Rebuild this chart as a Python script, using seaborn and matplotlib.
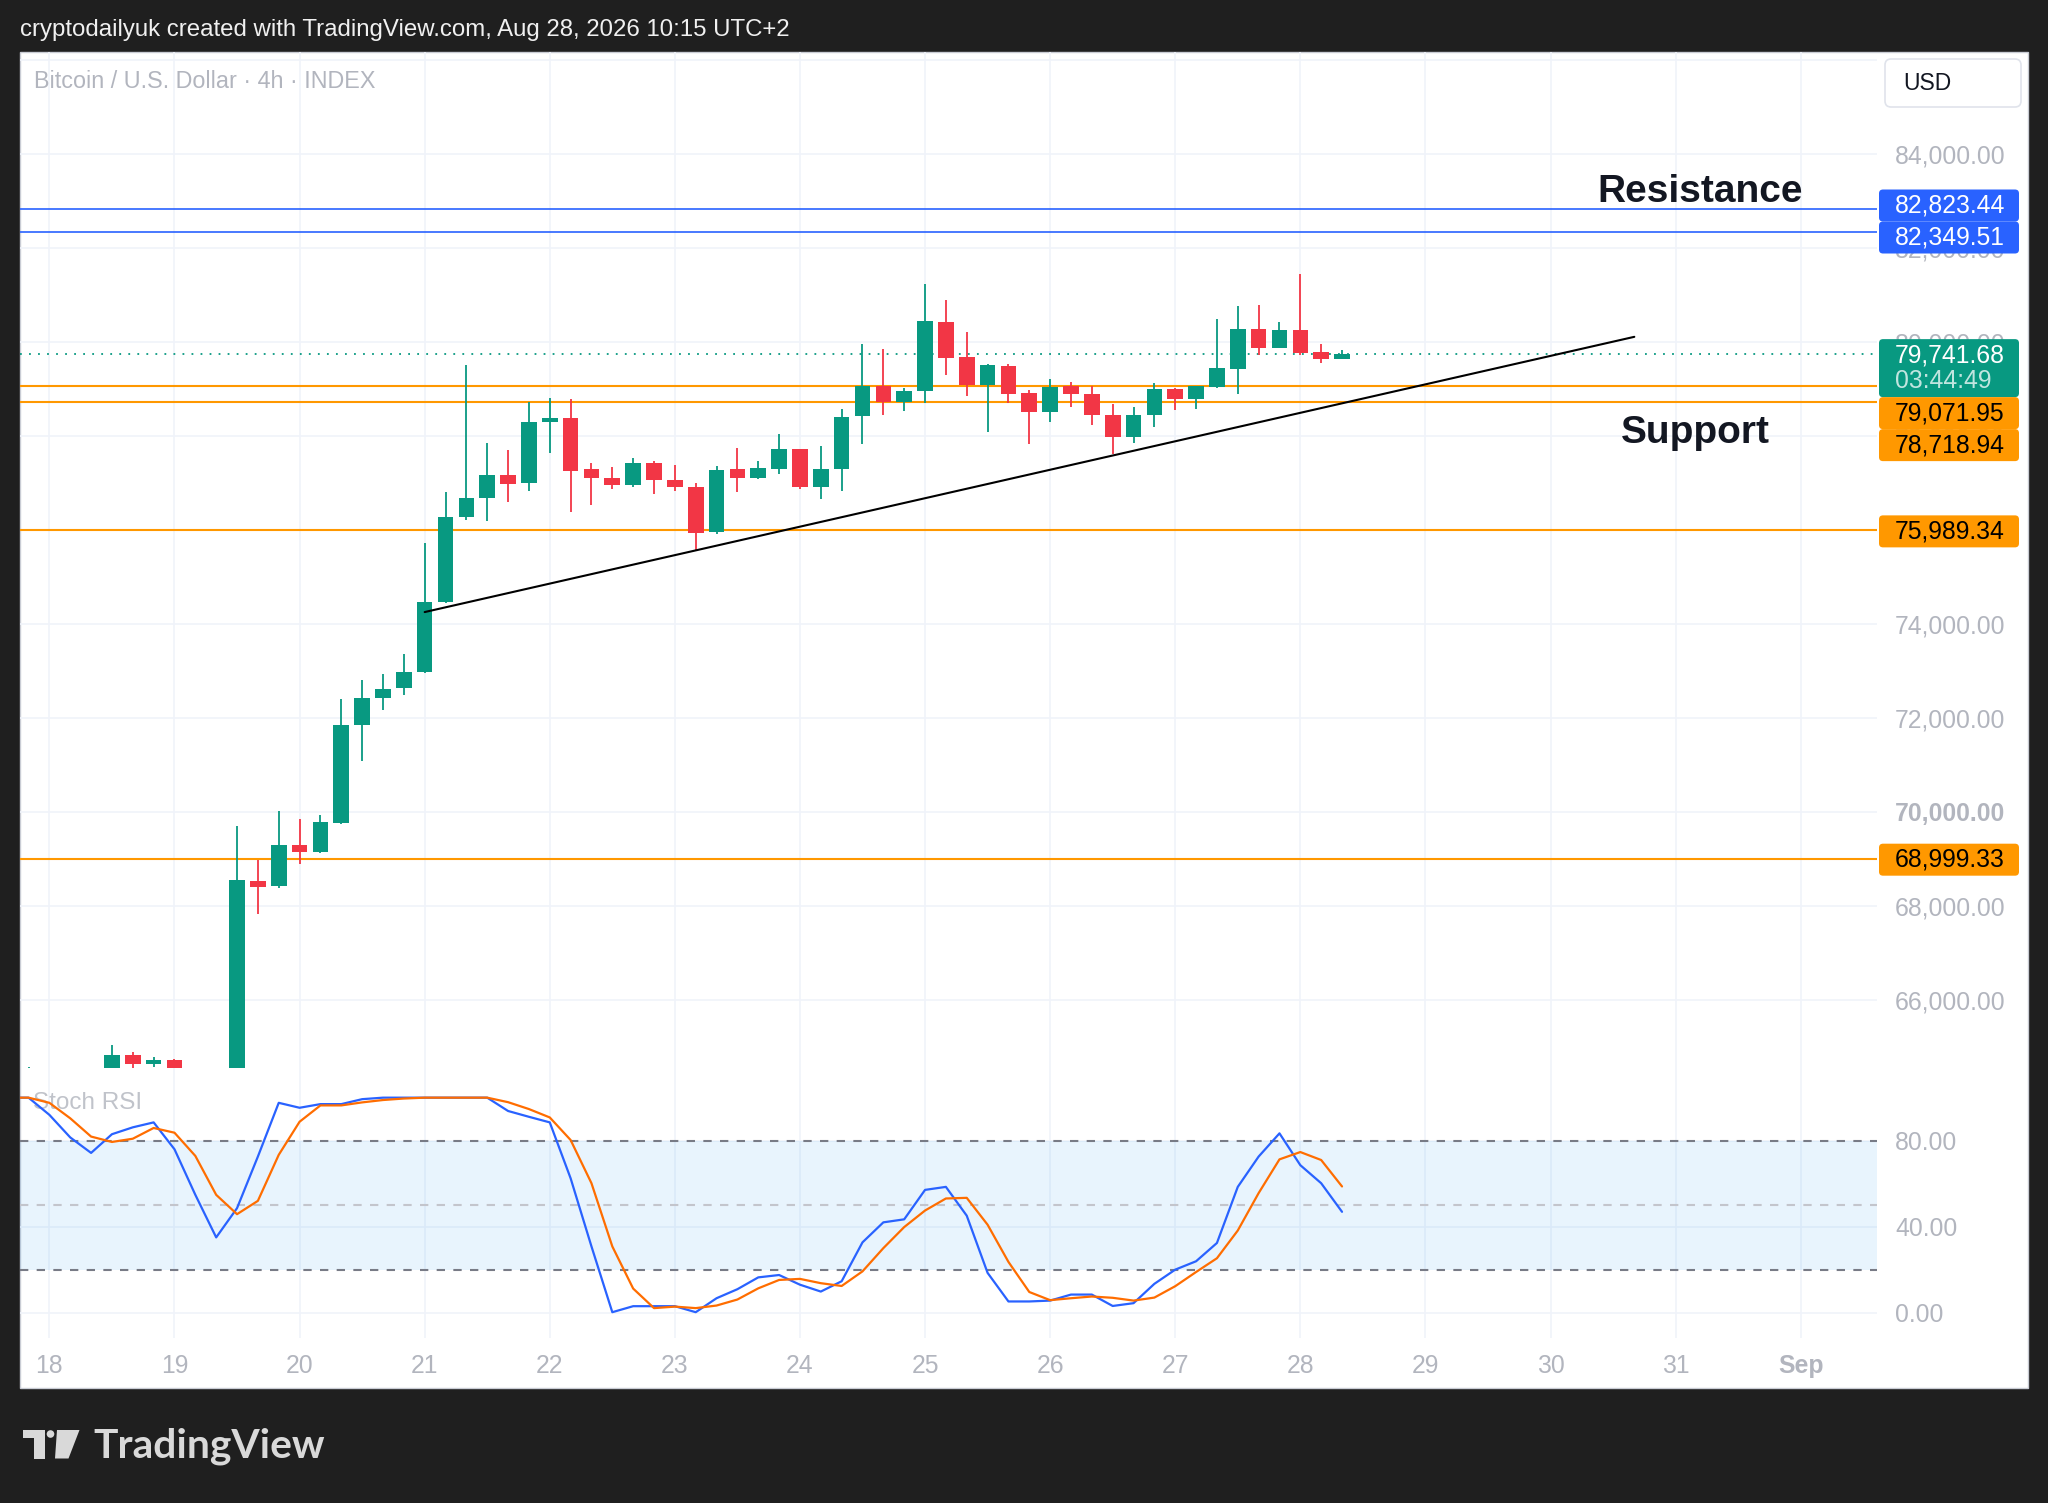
import numpy as np
import pandas as pd
import matplotlib
matplotlib.use("Agg")
import matplotlib.pyplot as plt
import seaborn as sns
from matplotlib.patches import Rectangle, FancyBboxPatch, Polygon, Circle
from matplotlib.transforms import Affine2D

## Data, 4h candles from Aug 17 18:00
opens = [64150, 64300, 64450, 64150, 63900, 64300, 64830, 64620, 64710, 64350,
         63800, 63600, 68530, 68420, 69290, 69145, 69765, 71846, 72423, 72630,
         72980, 74465, 76270, 76680, 77170, 76990, 78290, 78380, 77290, 77105,
         76950, 77415, 77060, 76905, 75945, 77290, 77110, 77305, 77722, 76920,
         77289, 78418, 79058, 78724, 78952, 80436, 79690, 79079, 79491, 78916,
         78504, 79065, 78895, 78454, 77971, 78440, 79001, 78781, 79037, 79435,
         80287, 79875, 80259, 79790, 79648]
highs = [64420, 64560, 64500, 64300, 64450, 65030, 64880, 64775, 64730, 64450,
         64000, 69690, 68970, 70020, 69846, 69940, 72400, 72795, 72930, 73360,
         75720, 76815, 79500, 77840, 77700, 78720, 78805, 78780, 77415, 77345,
         77528, 77460, 77390, 77000, 77360, 77750, 77465, 78035, 77730, 77786,
         78575, 79967, 79861, 79022, 81224, 80884, 80223, 79527, 79541, 78980,
         79221, 79157, 79058, 78682, 78618, 79136, 79010, 79070, 80500, 80770,
         80798, 80415, 81438, 79960, 79825]
lows = [63950, 64100, 64050, 63700, 63800, 64200, 64550, 64555, 64200, 63500,
        63300, 63500, 67815, 68380, 68890, 69115, 69740, 71083, 72165, 72475,
        72960, 74440, 76220, 76180, 76590, 76835, 77640, 76380, 76535, 76880,
        76920, 76770, 76830, 75565, 75915, 76800, 77090, 77182, 76865, 76657,
        76820, 77836, 78440, 78532, 78710, 79307, 78845, 78092, 78710, 77822,
        78291, 78617, 78227, 77616, 77857, 78192, 78561, 78582, 79030, 78888,
        79733, 79870, 79733, 79548, 79640]
closes = [64300, 64450, 64150, 63900, 64300, 64825, 64620, 64710, 64350, 63800,
          63600, 68540, 68400, 69290, 69145, 69774, 71856, 72423, 72620, 72980,
          74465, 76270, 76680, 77170, 76980, 78300, 78375, 77260, 77100, 76955,
          77415, 77055, 76915, 75940, 77285, 77105, 77315, 77722, 76915, 77296,
          78404, 79058, 78724, 78959, 80457, 79655, 79079, 79506, 78902, 78504,
          79051, 78887, 78440, 77971, 78454, 79001, 78781, 79065, 79449, 80287,
          79875, 80259, 79776, 79648, 79741.68]

stoch_k = [100, 100, 92, 81.5, 74.3, 83, 86.2, 88.5, 76, 54.8,
           35, 48.6, 72.6, 97.6, 95.3, 97, 97, 99.3, 100, 100,
           100, 100, 100, 100, 93.8, 91.1, 88.5, 62.5, 30.8, 0.2,
           3.0, 3.0, 3.0, 0.2, 6.7, 10.9, 16.4, 17.5, 13.0, 9.8,
           14.6, 32.7, 42, 43.4, 57.1, 58.5, 45.1, 18.5, 5.2, 5.2,
           5.6, 8.4, 8.4, 3.1, 4.4, 13.4, 20.0, 23.9, 32.4, 58.5,
           72.6, 83.4, 68.6, 60.2, 46.9]
stoch_d = [100, 100, 97.6, 90.4, 81.9, 79.4, 80.9, 85.9, 83.7, 72.9,
           54.8, 45.8, 52, 73.4, 88.8, 96.4, 96.4, 97.8, 98.9, 99.6,
           100, 100, 100, 100, 97.9, 94.7, 90.8, 80.3, 60.2, 30.8,
           11.2, 2.1, 2.8, 2.1, 3.3, 6.1, 11.3, 15.2, 15.7, 13.7,
           12.4, 19.2, 30, 39.8, 47.5, 53.1, 53.4, 40.9, 23.6, 9.6,
           5.8, 6.7, 7.5, 6.9, 5.6, 7.0, 12.3, 18.9, 25.3, 38.2,
           55.6, 71.3, 74.7, 71.0, 58.7]

day_ticks = list(range(18, 33))
day_labels = [str(d) for d in range(18, 32)] + ["Sep"]
price_ticks = [66000, 68000, 70000, 72000, 74000, 76000, 78000, 80000, 82000, 84000, 86000]
rsi_ticks = [0, 40, 80]

resistance_levels = [82823.44, 82349.51]
support_levels = [79071.95, 78718.94, 75989.34, 68999.33]
last_price = 79741.68
countdown = "03:44:49"
trend_x = [21.0, 30.67]
trend_y = [74250, 80110]

header = "cryptodailyuk created with TradingView.com, Aug 28, 2026 10:15 UTC+2"
title = "Bitcoin / U.S. Dollar \u00b7 4h \u00b7 INDEX"

## Colours
UP = "#089981"
DOWN = "#f23645"
BLUE = "#2962ff"
ORANGE = "#ff9800"
D_ORANGE = "#ff6d00"
GRID = "#f0f3fa"
TXT = "#b2b5be"
DARK = "#1f1f1f"

sns.set_theme(style="white")
plt.rcParams["font.family"] = ["Liberation Sans", "DejaVu Sans"]

times = pd.date_range("2026-08-17 18:00", periods=len(opens), freq="4h")
x = np.asarray(18 + (times - pd.Timestamp("2026-08-18 02:00")) / pd.Timedelta("1D"))
o, h, l, c = map(np.asarray, (opens, highs, lows, closes))

W, H = 2048, 1503
fig = plt.figure(figsize=(W / 100, H / 100), dpi=100, facecolor=DARK)
PX = Affine2D().scale(1, -1).translate(0, H)  # pixel coords, origin top-left


def rect(left, top, right, bottom):
    return [left / W, 1 - bottom / H, (right - left) / W, (bottom - top) / H]


fig.add_artist(Rectangle((20, 52), 2008, 1336, transform=PX, fc="white",
                         ec="#c9ccd4", lw=1, zorder=-1))

ax = fig.add_axes(rect(20, 52, 1877, 1068))
ax2 = fig.add_axes(rect(20, 1068, 1877, 1338), sharex=ax)
for a in (ax, ax2):
    a.set_facecolor("none")
    for sp in a.spines.values():
        sp.set_visible(False)
    a.grid(True, color=GRID, lw=1.2)
    a.set_axisbelow(True)

## Price pane
ax.set_xlim(17.765, 32.61)
ax.set_ylim(64543, 86174)
colors = np.where(c >= o, UP, DOWN)
ax.vlines(x, l, h, colors=colors, lw=1.3, zorder=3)
ax.bar(x, c - o, bottom=o, width=0.125, color=colors, linewidth=0, zorder=4)

for v in resistance_levels:
    ax.axhline(v, color=BLUE, lw=1.2, zorder=2)
for v in support_levels:
    ax.axhline(v, color=ORANGE, lw=1.5, zorder=2)
ax.axhline(last_price, color=UP, lw=1.3, ls=(0, (1, 4)), zorder=2)
ax.plot(trend_x, trend_y, color="black", lw=1.5, zorder=5)

ax.text(31.2, 83190, "Resistance", ha="center", va="center", fontsize=28,
        fontweight="bold", color="#131722")
ax.text(31.16, 78070, "Support", ha="center", va="center", fontsize=28,
        fontweight="bold", color="#131722")

ax.set_yticks(price_ticks)
ax.set_yticklabels(["" if v == 86000 else f"{v:,.2f}" for v in price_ticks])
ax.yaxis.tick_right()
ax.tick_params(axis="y", length=0, pad=13, labelsize=17.8, labelcolor=TXT)
ax.tick_params(axis="x", length=0, labelbottom=False)
for lab, v in zip(ax.get_yticklabels(), price_ticks):
    if v == 70000:
        lab.set_fontweight("bold")

## Stoch RSI pane
ax2.axhspan(20, 80, color="#2196f3", alpha=0.1, lw=0, zorder=1)
ax2.axhline(80, color="#787b86", lw=1.5, ls=(0, (4, 4)), zorder=2)
ax2.axhline(50, color="#c3c5cc", lw=1.5, ls=(0, (4, 4)), zorder=2)
ax2.axhline(20, color="#787b86", lw=1.5, ls=(0, (4, 4)), zorder=2)
sns.lineplot(x=x, y=stoch_k, ax=ax2, color=BLUE, lw=1.6, zorder=4)
sns.lineplot(x=x, y=stoch_d, ax=ax2, color=D_ORANGE, lw=1.6, zorder=5)
ax2.set_ylim(-11.8, 113.8)
ax2.set_xlabel("")
ax2.set_ylabel("")
ax2.set_yticks(rsi_ticks)
ax2.set_yticklabels([f"{v:.2f}" for v in rsi_ticks])
ax2.yaxis.tick_right()
ax2.tick_params(axis="y", length=0, pad=13, labelsize=17.8, labelcolor=TXT)
ax2.set_xticks(day_ticks)
ax2.set_xticklabels(day_labels)
ax2.tick_params(axis="x", length=0, pad=11.5, labelsize=17.8, labelcolor=TXT)
ax2.get_xticklabels()[-1].set_fontweight("bold")
ax2.text(33, 1103, "Stoch RSI", transform=PX, fontsize=17.5, color="#c0c3ca",
         va="center", zorder=1)

## Price tags on the right scale (stacked so they do not overlap)
tags = [(v, BLUE, "white") for v in resistance_levels]
tags += [(last_price, UP, "white")]
tags += [(v, ORANGE, "black") for v in support_levels]
items = []
for v, fc, tc in tags:
    cy = H - ax.transData.transform((0, v))[1]
    hh = 58 if v == last_price else 32
    items.append(dict(v=v, fc=fc, tc=tc, top=cy - 16, h=hh, anchor=v == last_price))
items.sort(key=lambda d: d["top"])
groups = []
for it in items:
    if groups and it["top"] < groups[-1][-1]["top"] + groups[-1][-1]["h"]:
        groups[-1].append(it)
    else:
        groups.append([it])
for g in groups:
    total = sum(it["h"] for it in g)
    anchors = [i for i, it in enumerate(g) if it["anchor"]]
    if anchors:
        start = g[anchors[0]]["top"] - sum(it["h"] for it in g[:anchors[0]])
    else:
        start = np.mean([it["top"] + 16 for it in g]) - total / 2
    for it in g:
        it["top"] = start
        start += it["h"]

for it in items:
    fig.add_artist(FancyBboxPatch((1879, it["top"] + 1), 140, it["h"], transform=PX,
                                  boxstyle="round,pad=0,rounding_size=4",
                                  fc=it["fc"], ec="none", zorder=5))
    fig.text(1895, it["top"] + 17, f"{it['v']:,.2f}", transform=PX, fontsize=17.8,
             color=it["tc"], va="center", zorder=6)
    if it["anchor"]:
        fig.text(1895, it["top"] + 43, countdown, transform=PX, fontsize=17.8,
                 color="white", alpha=0.75, va="center", zorder=6)

## USD box, header, title and footer
fig.add_artist(FancyBboxPatch((1885, 59), 136, 48, transform=PX,
                              boxstyle="round,pad=0,rounding_size=6",
                              fc="white", ec="#e0e3eb", lw=1.2, zorder=5))
fig.text(1903, 83, "USD", transform=PX, fontsize=16.5, color="#131722",
         va="center", zorder=6)
fig.text(20, 30, header, transform=PX, fontsize=17.3, color="#f0f0f0", va="center")
fig.text(34, 82, title, transform=PX, fontsize=16.8, color=TXT, va="center", zorder=6)

logo = "#d9d9d9"
fig.add_artist(Polygon([(23, 1430), (45, 1430), (45, 1458.5), (33.5, 1458.5),
                        (33.5, 1437.5), (23, 1437.5)], closed=True, transform=PX,
                       fc=logo, ec="none"))
fig.add_artist(Circle((50.5, 1434), 3.8, transform=PX, fc=logo, ec="none"))
fig.add_artist(Polygon([(57, 1430), (79.5, 1430), (68.5, 1458.5), (55, 1458.5)],
                       closed=True, transform=PX, fc=logo, ec="none"))
fig.text(93, 1446, "TradingView", transform=PX, fontsize=29.3, fontweight="bold",
         family=["Lato", "DejaVu Sans"], color=logo, va="center")

fig.savefig("out.png", dpi=100, facecolor=DARK)
